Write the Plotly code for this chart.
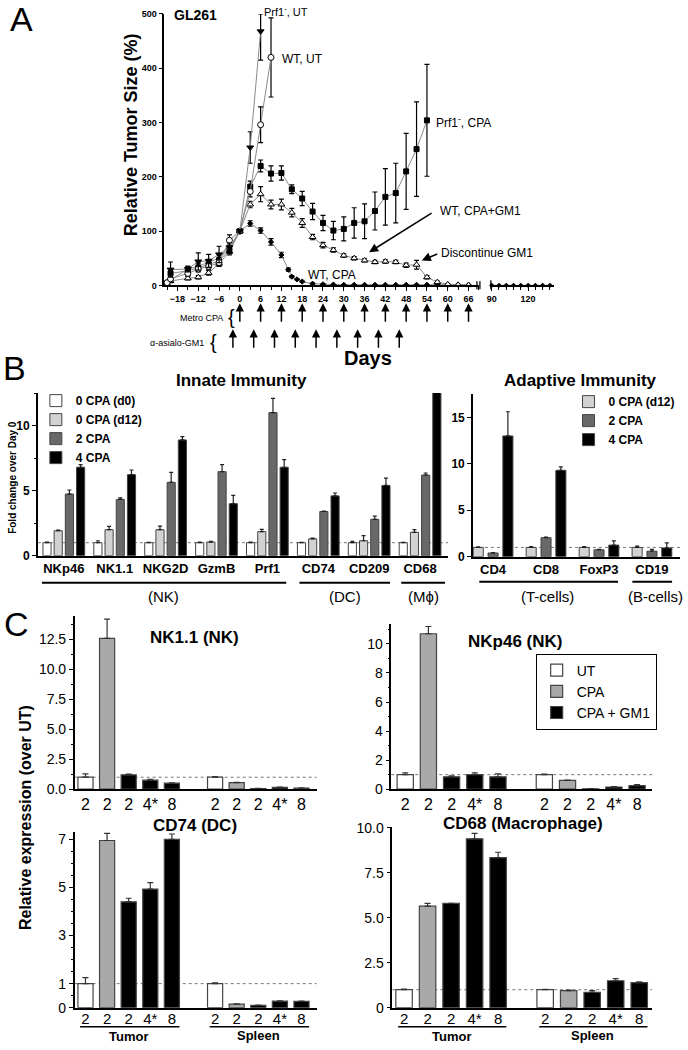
import plotly.graph_objects as go

W, H = 688, 1050
def X(p): return p / W
# screen y ~= 5 + 0.988 * figure y ; map reference pixel rows to figure fractions
def Y(p): return 1 - ((p - 5) / 0.988) / H

FONT = "Liberation Sans, Arial, sans-serif"

# ---------------- Panel A data ----------------
prf_ut_days = [-20, -15, -12, -9, -6, -3, 0, 3, 6]
prf_ut_vals = [29, 30, 44, 45, 57, 70, 100, 254, 468]
prf_ut_err_up = [14, 5, 16, 12, 15, 8, 0, 29, 32]
prf_ut_err_dn = [14, 5, 16, 12, 15, 8, 0, 29, 53]

wt_ut_days = [-21, -20, -15, -12, -9, -6, -3, 0, 3, 6, 9]
wt_ut_vals = [5, 12, 22, 30, 35, 42, 83, 100, 173, 296, 420]
wt_ut_err = [2, 4, 4, 5, 5, 6, 10, 0, 10, 33, 73]

prf_cpa_days = [-20, -15, -12, -9, -6, -3, 0, 3, 6, 9, 12, 15, 18, 21, 24, 27, 30,
                33, 36, 39, 42, 45, 48, 51, 54]
prf_cpa_vals = [22, 27, 32, 38, 45, 65, 100, 182, 220, 206, 207, 177, 160, 136, 115, 101,
                104, 115, 118, 137, 163, 170, 210, 251, 304]
prf_cpa_err = [5, 5, 6, 6, 6, 6, 0, 10, 11, 14, 13, 8, 13, 15, 14, 17, 22, 28, 32, 35,
               52, 55, 70, 87, 103]

gm1_days = [-21, -20, -15, -12, -9, -6, -3, 0, 3, 6, 9, 12, 15, 18, 21, 24, 27, 30, 33,
            36, 39, 42, 45, 48, 51, 54, 57, 60, 63, 66]
gm1_vals = [3, 8, 13, 15, 23, 40, 62, 100, 149, 168, 149, 149, 134, 115, 89, 74, 65, 55,
            50, 46, 43, 44, 43, 37, 38, 15, 6, 2, 1, 0.5]
gm1_err = [2, 3, 3, 3, 4, 5, 6, 0, 6, 14, 8, 10, 8, 8, 5, 5, 4, 3, 3, 3, 3, 3, 3, 4, 8,
           3, 2, 1, 1, 0]

wt_cpa_days = [-21, -15, -12, -9, -6, -3, 0, 3, 6, 9, 12, 14, 15, 16.5, 18, 21, 24, 27,
               30, 33, 36, 39, 42, 45, 48, 51, 54, 57, 60, 63, 66]
wt_cpa_vals = [6, 30, 35, 42, 50, 68, 100, 114, 101, 80, 56, 29, 16, 11, 7, 3, 2, 1.5,
               1, 1, 1, 1, 1, 1, 1, 1, 1, 1, 1, 1, 1]
wt_cpa_err = [2, 5, 6, 6, 6, 6, 0, 5, 5, 6, 5, 3, 2, 1, 1, 1, 1, 0, 0, 0, 0, 0, 0, 0, 0,
              0, 0, 0, 0, 0, 0]
wt_cpa_late_days = [90, 96, 102, 108, 114, 120, 126, 132, 138]
wt_cpa_late_vals = [0, 0, 0, 0, 0, 0, 0, 0, 0]

metro_cpa_days = [0, 6, 12, 18, 24, 30, 36, 42, 48, 54, 60, 66]
asialo_days = [-2, 4, 10, 16, 22, 28, 34, 40, 46]

# ---------------- Panel B data ----------------
innate_genes = ["NKp46", "NK1.1", "NKG2D", "GzmB", "Prf1", "CD74", "CD209", "CD68"]
inn_d0 = [1.0, 1.0, 1.0, 1.0, 1.0, 1.0, 1.0, 1.0]
inn_d0_err = [0.05, 0.15, 0.03, 0.05, 0.05, 0.03, 0.1, 0.03]
inn_d12 = [1.92, 2.0, 2.0, 1.05, 1.85, 1.3, 1.15, 1.8]
inn_d12_err = [0.05, 0.25, 0.28, 0.05, 0.18, 0.05, 0.39, 0.2]
inn_2 = [4.74, 4.33, 5.64, 6.46, 11.0, 3.4, 2.8, 6.2]
inn_2_err = [0.31, 0.12, 0.77, 0.54, 1.1, 0.03, 0.25, 0.16]
inn_4 = [6.8, 6.23, 8.9, 4.0, 6.8, 4.6, 5.4, 14.0]
inn_4_err = [0.2, 0.36, 0.25, 0.64, 0.58, 0.22, 0.57, 0]

adaptive_genes = ["CD4", "CD8", "FoxP3", "CD19"]
ad_d12 = [1.0, 1.0, 1.0, 1.0]
ad_d12_err = [0.05, 0.1, 0.1, 0.15]
ad_2 = [0.4, 2.05, 0.75, 0.6]
ad_2_err = [0.05, 0.05, 0.05, 0.2]
ad_4 = [13.0, 9.3, 1.25, 0.95]
ad_4_err = [2.6, 0.37, 0.45, 0.55]

# ---------------- Panel C data ----------------
c_ticklabels = ["2", "2", "2", "4*", "8", "2", "2", "2", "4*", "8"]
nk11_tumor = [1.0, 12.6, 1.2, 0.75, 0.5]
nk11_tumor_err = [0.28, 1.6, 0.07, 0.07, 0.03]
nk11_spleen = [1.0, 0.55, 0.05, 0.15, 0.1]
nk11_spleen_err = [0.05, 0.03, 0.01, 0.02, 0.01]
nkp46_tumor = [1.0, 10.7, 0.85, 1.0, 0.85]
nkp46_tumor_err = [0.12, 0.5, 0.06, 0.12, 0.2]
nkp46_spleen = [1.0, 0.6, 0.03, 0.15, 0.25]
nkp46_spleen_err = [0.03, 0.03, 0.01, 0.02, 0.06]
cd74_tumor = [1.0, 6.95, 4.4, 4.93, 7.0]
cd74_tumor_err = [0.25, 0.3, 0.15, 0.27, 0.22]
cd74_spleen = [1.0, 0.15, 0.1, 0.27, 0.26]
cd74_spleen_err = [0.03, 0.01, 0.01, 0.01, 0.01]
cd68_tumor = [1.0, 5.65, 5.8, 9.4, 8.35]
cd68_tumor_err = [0.04, 0.15, 0, 0.3, 0.3]
cd68_spleen = [1.0, 0.95, 0.85, 1.5, 1.4]
cd68_spleen_err = [0.02, 0.03, 0.1, 0.12, 0.04]

fig = go.Figure()

# ---------------- Panel A traces ----------------
LG = "#8a8a8a"
def a_trace(days, vals, up, dn, symbol, fill, size, xa="x"):
    fig.add_trace(go.Scatter(
        x=days, y=vals, mode="lines+markers", xaxis=xa, yaxis="y",
        line=dict(color=LG, width=1),
        marker=dict(symbol=symbol, color=fill, size=size, line=dict(color="black", width=1)),
        error_y=dict(type="data", symmetric=False, array=up, arrayminus=dn,
                     color="black", thickness=1.2, width=2.5),
        showlegend=False, cliponaxis=False))

a_trace(wt_cpa_days, wt_cpa_vals, wt_cpa_err, wt_cpa_err, "diamond", "black", 4)
a_trace(gm1_days, gm1_vals, gm1_err, gm1_err, "triangle-up", "white", 6)
a_trace(prf_cpa_days, prf_cpa_vals, prf_cpa_err, prf_cpa_err, "square", "black", 5)
a_trace(wt_ut_days, wt_ut_vals, wt_ut_err, wt_ut_err, "circle", "white", 6)
a_trace(prf_ut_days, prf_ut_vals, prf_ut_err_up, prf_ut_err_dn, "triangle-down", "black", 6)
fig.add_trace(go.Scatter(x=wt_cpa_late_days, y=wt_cpa_late_vals, mode="lines+markers",
                         xaxis="x2", yaxis="y", line=dict(color=LG, width=1),
                         marker=dict(symbol="diamond", color="black", size=4),
                         showlegend=False, cliponaxis=False))

# ---------------- Panel B traces ----------------
C_WHITE, C_LIGHT, C_DARK, C_BLACK = "#ffffff", "#d2d2d2", "#686868", "#000000"

def b_bar(xpos, vals, err, color, name, xa, ya, center, width, legend):
    fig.add_trace(go.Bar(
        x=xpos, y=vals, name=name, xaxis=xa, yaxis=ya, width=width,
        offset=center - width / 2,
        marker=dict(color=color, line=dict(color="#444444", width=1)),
        error_y=dict(type="data", symmetric=False, array=err,
                     arrayminus=[0] * len(err), color="#222222", thickness=1.2, width=2),
        legend=legend, showlegend=True))

ix = list(range(len(innate_genes)))
wi = 0.16
b_bar(ix, inn_d0, inn_d0_err, C_WHITE, "0 CPA (d0)", "x3", "y3", -0.33, wi, "legend")
b_bar(ix, inn_d12, inn_d12_err, C_LIGHT, "0 CPA (d12)", "x3", "y3", -0.11, wi, "legend")
b_bar(ix, inn_2, inn_2_err, C_DARK, "2 CPA", "x3", "y3", 0.11, wi, "legend")
b_bar(ix, inn_4, inn_4_err, C_BLACK, "4 CPA", "x3", "y3", 0.33, wi, "legend")

ax_ = list(range(len(adaptive_genes)))
wa = 0.19
b_bar(ax_, ad_d12, ad_d12_err, C_LIGHT, "0 CPA (d12)", "x4", "y4", -0.28, wa, "legend2")
b_bar(ax_, ad_2, ad_2_err, C_DARK, "2 CPA", "x4", "y4", 0.0, wa, "legend2")
b_bar(ax_, ad_4, ad_4_err, C_BLACK, "4 CPA", "x4", "y4", 0.28, wa, "legend2")

# ---------------- Panel C traces ----------------
CPA_GRAY = "#a9a9a9"
def c_panel(tumor, tumor_err, spleen, spleen_err, xa, ya, show):
    groups = [
        ("UT", C_WHITE, [0], [6], [0]),
        ("CPA", CPA_GRAY, [1], [7], [1]),
        ("CPA + GM1", C_BLACK, [2, 3, 4], [8, 9, 10], [2, 3, 4]),
    ]
    for name, col, tpos, spos, idx in groups:
        xs = tpos + spos
        ys = [tumor[i] for i in idx] + [spleen[i] for i in idx]
        es = [tumor_err[i] for i in idx] + [spleen_err[i] for i in idx]
        fig.add_trace(go.Bar(
            x=xs, y=ys, name=name, xaxis=xa, yaxis=ya, width=0.7,
            marker=dict(color=col, line=dict(color="#444444", width=1.2)),
            error_y=dict(type="data", symmetric=False, array=es, arrayminus=[0] * len(es),
                         color="#333333", thickness=1.2, width=3),
            legend="legend3", showlegend=show))

c_panel(nk11_tumor, nk11_tumor_err, nk11_spleen, nk11_spleen_err, "x5", "y5", False)
c_panel(nkp46_tumor, nkp46_tumor_err, nkp46_spleen, nkp46_spleen_err, "x6", "y6", True)
c_panel(cd74_tumor, cd74_tumor_err, cd74_spleen, cd74_spleen_err, "x7", "y7", False)
c_panel(cd68_tumor, cd68_tumor_err, cd68_spleen, cd68_spleen_err, "x8", "y8", False)

# ---------------- Layout / axes ----------------
BOLD = dict(family=FONT, weight="bold", color="black")
def axline(**kw):
    d = dict(showline=True, linecolor="black", linewidth=1.5, showgrid=False,
             zeroline=False, ticks="outside", tickcolor="black", ticklen=4)
    d.update(kw)
    return d

c_pos = [0, 1, 2, 3, 4, 6, 7, 8, 9, 10]

layout = dict(
    width=W, height=H, margin=dict(l=0, r=0, t=0, b=0),
    paper_bgcolor="white", plot_bgcolor="white",
    font=dict(family=FONT, color="black"),
    barmode="overlay",
    xaxis=axline(domain=[X(162), X(478)], range=[-21.8, 69], anchor="y",
                 tickmode="linear", tick0=0, dtick=6,
                 tickfont=dict(size=9, **BOLD),
                 minor=dict(dtick=3, tick0=0, ticks="outside", ticklen=3, tickcolor="black")),
    xaxis2=axline(domain=[X(489), X(553)], range=[88.5, 141], anchor="y",
                  tickvals=[90, 120], tickfont=dict(size=9, **BOLD),
                  minor=dict(dtick=6, tick0=0, ticks="outside", ticklen=3, tickcolor="black")),
    yaxis=axline(domain=[Y(284), Y(12)], range=[0, 500], anchor="x", dtick=100,
                 tickfont=dict(size=9, **BOLD)),
    xaxis3=axline(domain=[X(35), X(447)], range=[-0.51, 7.55], anchor="y3",
                  tickvals=ix, ticktext=innate_genes, ticks="",
                  tickfont=dict(size=13, **BOLD)),
    yaxis3=axline(domain=[Y(555), Y(392)], range=[0, 12.5], anchor="x3",
                  tickvals=[0, 5, 10], tickfont=dict(size=12, **BOLD),
                  minor=dict(dtick=2.5, ticks="outside", ticklen=2, tickcolor="black")),
    xaxis4=axline(domain=[X(472), X(680)], range=[-0.38, 3.53], anchor="y4",
                  tickvals=ax_, ticktext=adaptive_genes, ticks="",
                  tickfont=dict(size=13, **BOLD)),
    yaxis4=axline(domain=[Y(556), Y(393)], range=[0, 17.5], anchor="x4",
                  tickvals=[0, 5, 10, 15], tickfont=dict(size=12, **BOLD)),
    xaxis5=axline(domain=[X(72), X(315)], range=[-0.5, 10.7], anchor="y5",
                  tickvals=c_pos, ticktext=c_ticklabels, ticks="", tickfont=dict(size=16)),
    yaxis5=axline(domain=[Y(789), Y(615)], range=[0, 14.5], anchor="x5",
                  tickvals=[0, 2.5, 5, 7.5, 10, 12.5],
                  ticktext=["0.0", "2.5", "5.0", "7.5", "10.0", "12.5"],
                  tickfont=dict(size=14),
                  minor=dict(dtick=1.25, ticks="outside", ticklen=2, tickcolor="black")),
    xaxis6=axline(domain=[X(390), X(652)], range=[-0.6, 10.65], anchor="y6",
                  tickvals=c_pos, ticktext=c_ticklabels, ticks="", tickfont=dict(size=16)),
    yaxis6=axline(domain=[Y(789), Y(623)], range=[0, 11.4], anchor="x6",
                  tickvals=[0, 2, 4, 6, 8, 10], tickfont=dict(size=14),
                  minor=dict(dtick=1, ticks="outside", ticklen=2, tickcolor="black")),
    xaxis7=axline(domain=[X(72), X(315)], range=[-0.5, 10.7], anchor="y7",
                  tickvals=c_pos, ticktext=c_ticklabels, ticks="", tickfont=dict(size=15),
                  ticklabelstandoff=-3),
    yaxis7=axline(domain=[Y(1008), Y(832)], range=[0, 7.3], anchor="x7",
                  tickvals=[0, 1, 3, 5, 7], tickfont=dict(size=14),
                  minor=dict(dtick=0.5, ticks="outside", ticklen=2, tickcolor="black")),
    xaxis8=axline(domain=[X(391), X(652)], range=[-0.5, 10.55], anchor="y8",
                  tickvals=c_pos, ticktext=c_ticklabels, ticks="", tickfont=dict(size=15),
                  ticklabelstandoff=-3),
    yaxis8=axline(domain=[Y(1008), Y(827)], range=[0, 10.05], anchor="x8",
                  tickvals=[0, 2.5, 5, 7.5, 10],
                  ticktext=["0", "2.5", "5.0", "7.5", "10.0"], tickfont=dict(size=14)),
    legend=dict(x=X(33), y=Y(385), xanchor="left", yanchor="top",
                font=dict(size=12, **BOLD), bgcolor="rgba(0,0,0,0)", tracegroupgap=0,
                itemwidth=30),
    legend2=dict(x=X(568), y=Y(386), xanchor="left", yanchor="top",
                 font=dict(size=12, **BOLD), bgcolor="rgba(0,0,0,0)", itemwidth=30),
    legend3=dict(x=X(535), y=Y(653), xanchor="left", yanchor="top",
                 font=dict(size=14, family=FONT, color="black"), bgcolor="white",
                 bordercolor="black", borderwidth=1, itemwidth=30),
)
fig.update_layout(**layout)

# ---------------- Shapes ----------------
shapes = []
for xa, ya in [("x3", "y3"), ("x4", "y4"), ("x5", "y5"), ("x6", "y6"), ("x7", "y7"), ("x8", "y8")]:
    shapes.append(dict(type="line", xref=f"{xa} domain", yref=ya, x0=0, x1=1, y0=1, y1=1,
                       line=dict(color="#777777", width=1, dash="dot"), layer="below"))
for xp in [476, 479]:
    shapes.append(dict(type="line", xref="paper", yref="paper", x0=X(xp), x1=X(xp),
                       y0=Y(280), y1=Y(288), line=dict(color="black", width=1.3)))
shapes.append(dict(type="line", xref="paper", yref="paper", x0=X(490), x1=X(490),
                   y0=Y(279), y1=Y(288), line=dict(color="black", width=1.3)))
def hline(xref, x0, x1, ypx, w=2):
    shapes.append(dict(type="line", xref=xref, yref="paper", x0=x0, x1=x1,
                       y0=Y(ypx), y1=Y(ypx), line=dict(color="black", width=w)))
hline("x3", -0.43, 4.37, 582)
hline("x3", 4.63, 6.41, 582)
hline("x3", 6.63, 7.49, 582)
hline("x4", -0.26, 2.36, 581)
hline("x4", 2.63, 3.38, 581)
hline("x7", -0.25, 4.35, 1027, 1.5)
hline("x7", 5.75, 10.35, 1027, 1.5)
hline("x8", -0.25, 4.35, 1027, 1.5)
hline("x8", 5.75, 10.35, 1027, 1.5)
fig.update_layout(shapes=shapes)

# ---------------- Annotations ----------------
ann = []
def txt(text, xp, yp, size, bold=False, xanchor="center", yanchor="middle", angle=0,
        xref="paper", xval=None):
    ann.append(dict(text=text, x=(xval if xval is not None else X(xp)), y=Y(yp),
                    xref=xref, yref="paper", showarrow=False, xanchor=xanchor,
                    yanchor=yanchor, textangle=angle,
                    font=dict(size=size, family=FONT, color="black",
                              weight=("bold" if bold else "normal"))))

txt("A", 19, 17, 34)
txt("B", 12, 367, 34)
txt("C", 14, 623, 34)

txt("GL261", 170, 13, 14, bold=True, xanchor="left")
txt("Relative Tumor Size (%)", 128, 133, 18, bold=True, angle=-90)
txt("Prf1<sup>-</sup>, UT", 260, 9, 11, xanchor="left")
txt("WT, UT", 278, 57, 12, xanchor="left")
txt("Prf1<sup>-</sup>, CPA", 433, 120, 12, xanchor="left")
txt("WT, CPA+GM1", 437, 209, 12, xanchor="left")
txt("Discontinue GM1", 438, 252, 12, xanchor="left")
txt("WT, CPA", 304, 274, 12, xanchor="left")
txt("Days", 367, 357, 20, bold=True)
txt("Metro CPA", 223, 317, 9, xanchor="right")
txt("{", 230, 316, 20)
txt("\u03b1-asialo-GM1", 204, 342, 9, xanchor="right")
txt("{", 211, 341, 20)

ann.append(dict(x=37.3, y=61, xref="x", yref="y", text="", showarrow=True,
                ax=64, ay=-40, arrowhead=2, arrowsize=1.2, arrowwidth=1.5, arrowcolor="black"))
ann.append(dict(x=52.5, y=46, xref="x", yref="y", text="", showarrow=True,
                ax=17, ay=-7, arrowhead=2, arrowsize=1.2, arrowwidth=1.5, arrowcolor="black"))
for d in metro_cpa_days:
    ann.append(dict(x=d, y=Y(302), xref="x", yref="paper", text="", showarrow=True,
                    ax=0, ay=20, arrowhead=2, arrowsize=1.1, arrowwidth=1.5, arrowcolor="black"))
for d in asialo_days:
    ann.append(dict(x=d, y=Y(328), xref="x", yref="paper", text="", showarrow=True,
                    ax=0, ay=20, arrowhead=2, arrowsize=1.1, arrowwidth=1.5, arrowcolor="black"))

txt("Innate Immunity", 240, 379, 17, bold=True)
txt("Adaptive Immunity", 580, 379, 17, bold=True)
txt("Fold change over Day 0", 10, 476, 10, bold=True, angle=-90)
for label, xv, axn in [("(NK)", 1.96, "x3"), ("(DC)", 5.53, "x3"), ("(M\u03d5)", 7.06, "x3"),
                       ("(T-cells)", 1.03, "x4"), ("(B-cells)", 3.06, "x4")]:
    txt(label, 0, 596, 15, xref=axn, xval=xv)

txt("NK1.1 (NK)", 192, 637, 17, bold=True)
txt("NKp46 (NK)", 514, 641, 17, bold=True)
txt("CD74 (DC)", 193, 825, 17, bold=True)
txt("CD68 (Macrophage)", 522, 823, 17, bold=True)
txt("Relative expression (over UT)", 22, 817, 16, bold=True, angle=-90)
for axn in ["x7", "x8"]:
    txt("Tumor", 0, 1037, 13, bold=True, xref=axn, xval=2)
    txt("Spleen", 0, 1036, 13, bold=True, xref=axn, xval=8)

fig.update_layout(annotations=ann)
fig.write_html("out.html", config={"displayModeBar": False},
               post_script="document.body.style.margin='0';")
